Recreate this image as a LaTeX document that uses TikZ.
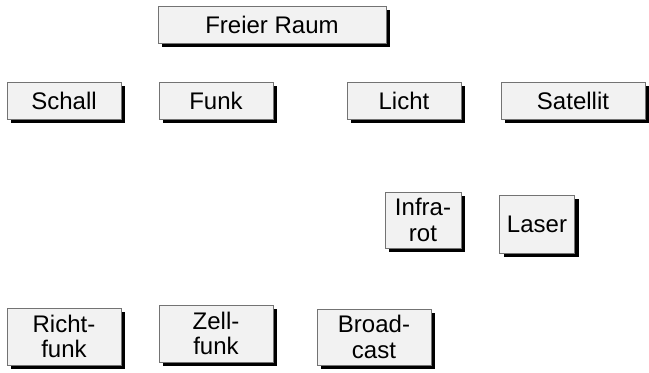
\documentclass[tikz,border=0pt]{standalone}
\usepackage{fontspec}
\setmainfont{Liberation Sans}
\usetikzlibrary{shadows}
\begin{document}
\begin{tikzpicture}[x=0.5pt, y=-0.5pt,
    box/.style={draw=black!55, line width=0.5pt, fill=black!5, inner sep=0pt,
        align=center, font=\fontsize{12}{12.8}\selectfont,
        drop shadow={shadow xshift=2.2pt, shadow yshift=-2.2pt, fill=black, opacity=1}}]
    \useasboundingbox (0,0) rectangle (649,372);

    % top row
    \node[box, minimum width=114pt, minimum height=18.5pt] (raum) at (272,24.5) {Freier Raum};
    \node[box, minimum width=57pt, minimum height=18.5pt] (schall) at (64,100.5) {Schall};
    \node[box, minimum width=57pt, minimum height=18.5pt] (funk) at (216,100.5) {Funk};
    \node[box, minimum width=57pt, minimum height=18.5pt] (licht) at (404,100.5) {Licht};
    \node[box, minimum width=72pt, minimum height=18.5pt] (sat) at (573,100.5) {Satellit};

    % below Licht
    \node[box, minimum width=38pt, minimum height=28pt] (infra) at (423,220) {Infra-\\rot};
    \node[box, minimum width=37.5pt, minimum height=29pt] (laser) at (537,224) {Laser};

    % below Funk
    \node[box, minimum width=57pt, minimum height=28.5pt] (richt) at (64,336.5) {Richt-\\funk};
    \node[box, minimum width=57pt, minimum height=28.5pt] (zell) at (216,333.5) {Zell-\\funk};
    \node[box, minimum width=57pt, minimum height=28pt] (broad) at (374,337) {Broad-\\cast};
\end{tikzpicture}
\end{document}
